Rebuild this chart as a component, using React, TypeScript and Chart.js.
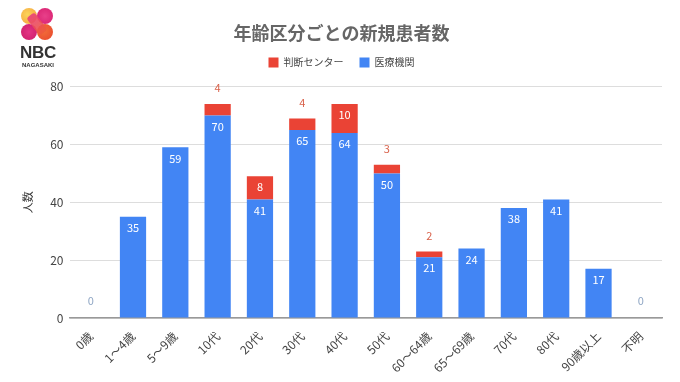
import React, { useEffect, useRef } from "react";
import { Chart, registerables } from "chart.js";

Chart.register(...registerables);

const categories = ["0歳", "1〜4歳", "5〜9歳", "10代", "20代", "30代", "40代", "50代", "60〜64歳", "65〜69歳", "70代", "80代", "90歳以上", "不明"];
const medical = [0, 35, 59, 70, 41, 65, 64, 50, 21, 24, 38, 41, 17, 0];
const center = [0, 0, 0, 4, 8, 4, 10, 3, 2, 0, 0, 0, 0, 0];
const seriesNames = ["医療機関", "判断センター"];
const titleText = "年齢区分ごとの新規患者数";
const yTitle = "人数";

const FONT = "'Noto Sans CJK JP', 'Noto Sans', sans-serif";
const BLUE = "#4285f4";
const RED = "#ea4335";

const legendSpacer = {
  id: "legendSpacer",
  beforeInit(chart: any) {
    const legend = chart.legend;
    if (!legend) return;
    const orig = legend.fit;
    legend.fit = function () {
      orig.call(this);
      this.height += 9;
    };
  },
};

const labelPlugin = {
  id: "valueLabels",
  afterDatasetsDraw(chart: any) {
    const ctx = chart.ctx;
    const blueMeta = chart.getDatasetMeta(0);
    const redMeta = chart.getDatasetMeta(1);
    ctx.save();
    ctx.font = `11px ${FONT}`;
    ctx.textAlign = "center";
    ctx.textBaseline = "middle";
    medical.forEach((v, i) => {
      const bar = blueMeta.data[i];
      if (v > 0) {
        ctx.fillStyle = "#ffffff";
        ctx.fillText(String(v), bar.x, bar.y + 11);
      } else {
        ctx.fillStyle = "#8fa6c4";
        ctx.fillText(String(v), bar.x, bar.base - 17);
      }
    });
    center.forEach((v, i) => {
      if (v <= 0) return;
      const bar = redMeta.data[i];
      if (v >= 5) {
        ctx.fillStyle = "#ffffff";
        ctx.fillText(String(v), bar.x, bar.y + 11);
      } else {
        ctx.fillStyle = "#d9614a";
        ctx.fillText(String(v), bar.x, bar.y - 16);
      }
    });
    ctx.restore();
  },
};

function Logo() {
  const circle = (left: number, top: number, bg: string) => (
    <div
      style={{
        position: "absolute",
        left,
        top,
        width: 16,
        height: 16,
        borderRadius: "50%",
        background: bg,
      }}
    />
  );
  return (
    <div style={{ position: "absolute", left: 17, top: 6, width: 42, height: 66 }}>
      <div style={{ position: "absolute", left: 4, top: 2, width: 34, height: 34 }}>
        {circle(0, 0, "radial-gradient(circle at 40% 40%, #fbd45a, #f49b3a)")}
        {circle(16, 0, "radial-gradient(circle at 50% 50%, #e8408a, #d81f6f)")}
        {circle(0, 16, "radial-gradient(circle at 50% 50%, #e33485, #cc1c68)")}
        {circle(16, 16, "radial-gradient(circle at 40% 40%, #f2703a, #e8452c)")}
        <div
          style={{
            position: "absolute",
            left: 11,
            top: 5,
            width: 10,
            height: 22,
            background: "linear-gradient(180deg, #e9407c, #ee5a3a)",
            transform: "rotate(-38deg)",
            transformOrigin: "center",
            borderRadius: 3,
            opacity: 0.9,
          }}
        />
      </div>
      <div
        style={{
          position: "absolute",
          left: -4,
          top: 37,
          width: 50,
          textAlign: "center",
          font: `bold 17px 'Liberation Sans', Arial, sans-serif`,
          color: "#333",
          letterSpacing: -0.3,
        }}
      >
        NBC
      </div>
      <div
        style={{
          position: "absolute",
          left: -4,
          top: 56,
          width: 50,
          textAlign: "center",
          font: `bold 6px 'Liberation Sans', Arial, sans-serif`,
          color: "#333",
        }}
      >
        NAGASAKI
      </div>
    </div>
  );
}

export default function App() {
  const ref = useRef<HTMLCanvasElement>(null);
  useEffect(() => {
    if (!ref.current) return;
    const chart = new Chart(ref.current, {
      type: "bar",
      data: {
        labels: categories,
        datasets: [
          { label: seriesNames[0], data: medical, backgroundColor: BLUE, borderWidth: 0 },
          { label: seriesNames[1], data: center, backgroundColor: RED, borderWidth: 0 },
        ],
      },
      options: {
        responsive: false,
        animation: false,
        layout: { padding: { left: 21, right: 18, top: 0, bottom: 4 } },
        datasets: { bar: { categoryPercentage: 1, barPercentage: 0.62 } } as any,
        plugins: {
          title: {
            display: true,
            text: titleText,
            color: "#666",
            font: { family: FONT, size: 18, weight: "bold" },
            padding: { top: 22, bottom: -2 },
          },
          legend: {
            display: true,
            reverse: true,
            labels: {
              boxWidth: 10,
              boxHeight: 10,
              padding: 16,
              color: "#444",
              font: { family: FONT, size: 10 },
            },
          },
          tooltip: { enabled: false },
        },
        scales: {
          x: {
            stacked: true,
            grid: { display: false },
            border: { display: true, color: "#999", width: 1.5 },
            ticks: {
              color: "#444",
              font: { family: FONT, size: 12 },
              minRotation: 45,
              maxRotation: 45,
              autoSkip: false,
            },
          },
          y: {
            stacked: true,
            min: 0,
            max: 80,
            border: { display: false },
            grid: { color: "#dddddd", drawTicks: false },
            ticks: {
              stepSize: 20,
              color: "#444",
              padding: 6,
              font: { family: FONT, size: 12 },
            },
            title: {
              display: true,
              text: yTitle,
              color: "#333",
              font: { family: FONT, size: 11 },
              padding: { top: 0, bottom: 10 },
            },
          },
        },
      },
      plugins: [legendSpacer, labelPlugin],
    });
    return () => chart.destroy();
  }, []);
  return (
    <div style={{ position: "absolute", left: 0, top: 0, width: 680, height: 382, background: "#fff" }}>
      <canvas ref={ref} width={680} height={382} style={{ width: 680, height: 382 }} />
      <Logo />
    </div>
  );
}
